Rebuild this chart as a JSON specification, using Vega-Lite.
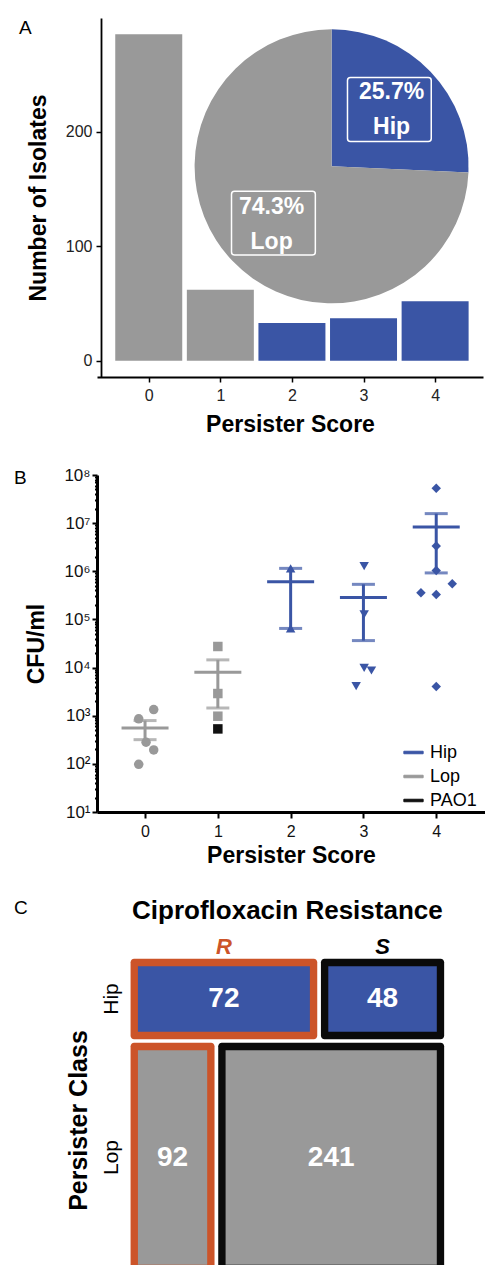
{
  "$schema": "https://vega.github.io/schema/vega-lite/v6.json",
  "background": "white",
  "padding": {"left": 14, "top": 18, "right": 0, "bottom": 0},
  "spacing": 30,
  "config": {
    "font": "Liberation Sans",
    "view": {"stroke": null},
    "axis": {"grid": false, "labelFont": "Liberation Sans", "titleFont": "Liberation Sans"}
  },
  "resolve": {"scale": {"color": "independent", "shape": "independent"}, "legend": {"color": "independent", "shape": "independent"}},
  "datasets": {
    "bars": [
      {"score": 0, "n": 285, "class": "Lop"},
      {"score": 1, "n": 62, "class": "Lop"},
      {"score": 2, "n": 33, "class": "Hip"},
      {"score": 3, "n": 37, "class": "Hip"},
      {"score": 4, "n": 52, "class": "Hip"}
    ],
    "pie": [
      {"class": "Hip", "frac": 0.257},
      {"class": "Lop", "frac": 0.743}
    ],
    "cfu": [
      {"score": 0, "xj": -0.087, "cfu": 860, "class": "Lop", "strain": "Lop"},
      {"score": 0, "xj": 0.119, "cfu": 1343, "class": "Lop", "strain": "Lop"},
      {"score": 0, "xj": 0.014, "cfu": 281, "class": "Lop", "strain": "Lop"},
      {"score": 0, "xj": 0.119, "cfu": 195, "class": "Lop", "strain": "Lop"},
      {"score": 0, "xj": -0.087, "cfu": 98, "class": "Lop", "strain": "Lop"},
      {"score": 1, "xj": 1, "cfu": 27400, "class": "Lop", "strain": "Lop"},
      {"score": 1, "xj": 1, "cfu": 2890, "class": "Lop", "strain": "Lop"},
      {"score": 1, "xj": 1, "cfu": 977, "class": "Lop", "strain": "Lop"},
      {"score": 1, "xj": 1, "cfu": 532, "class": "Lop", "strain": "PAO1"},
      {"score": 2, "xj": 2, "cfu": 1150000, "class": "Hip", "strain": "Hip"},
      {"score": 2, "xj": 2, "cfu": 65000, "class": "Hip", "strain": "Hip"},
      {"score": 3, "xj": 3.01, "cfu": 1280000, "class": "Hip", "strain": "Hip"},
      {"score": 3, "xj": 3.01, "cfu": 127000, "class": "Hip", "strain": "Hip"},
      {"score": 3, "xj": 3.01, "cfu": 9870, "class": "Hip", "strain": "Hip"},
      {"score": 3, "xj": 3.11, "cfu": 8690, "class": "Hip", "strain": "Hip"},
      {"score": 3, "xj": 2.9, "cfu": 4100, "class": "Hip", "strain": "Hip"},
      {"score": 4, "xj": 4, "cfu": 52800000, "class": "Hip", "strain": "Hip"},
      {"score": 4, "xj": 4, "cfu": 3340000, "class": "Hip", "strain": "Hip"},
      {"score": 4, "xj": 4, "cfu": 1040000, "class": "Hip", "strain": "Hip"},
      {"score": 4, "xj": 4.22, "cfu": 551000, "class": "Hip", "strain": "Hip"},
      {"score": 4, "xj": 3.79, "cfu": 358000, "class": "Hip", "strain": "Hip"},
      {"score": 4, "xj": 4, "cfu": 330000, "class": "Hip", "strain": "Hip"},
      {"score": 4, "xj": 4, "cfu": 4040, "class": "Hip", "strain": "Hip"}
    ],
    "mosaic": [
      {"class": "Hip", "res": "R", "n": 72},
      {"class": "Hip", "res": "S", "n": 48},
      {"class": "Lop", "res": "R", "n": 92},
      {"class": "Lop", "res": "S", "n": 241}
    ]
  },
  "vconcat": [
    {
      "width": 386,
      "height": 359,
      "layer": [
        {
          "data": {"name": "bars"},
          "mark": {"type": "bar", "width": 67},
          "encoding": {
            "x": {"field": "score", "type": "quantitative", "title": "Persister Score", "scale": {"domain": [-0.653, 4.599], "nice": false, "zero": false},
              "axis": {"values": [0, 1, 2, 3, 4], "format": "d", "titleFontSize": 23, "titleFontWeight": "bold", "titleColor": "black", "titlePadding": 10, "labelFontSize": 16, "labelColor": "#222", "labelPadding": 5, "labelFlush": false, "tickSize": 5, "tickWidth": 1.5, "tickColor": "black", "domainColor": "black", "domainWidth": 1.8}},
            "y": {"field": "n", "type": "quantitative", "title": "Number of Isolates", "scale": {"domain": [-14.25, 299.25], "nice": false, "zero": false},
              "axis": {"values": [0, 100, 200], "offset": -4, "titleFontSize": 23, "titleFontWeight": "bold", "titleColor": "black", "titlePadding": 15, "labelFontSize": 16, "labelColor": "#222", "labelPadding": 4, "labelFlush": false, "tickSize": 5, "tickWidth": 1.5, "tickColor": "black", "domainColor": "black", "domainWidth": 1.8}},
            "y2": {"datum": 0},
            "color": {"field": "class", "type": "nominal", "scale": {"domain": ["Hip", "Lop"], "range": ["#3A55A5", "#999999"]}, "legend": null}
          }
        },
        {
          "data": {"name": "pie"},
          "mark": {"type": "arc", "outerRadius": 137},
          "encoding": {
            "x": {"datum": 2.554, "type": "quantitative"},
            "y": {"datum": 169.7, "type": "quantitative"},
            "theta": {"field": "frac", "type": "quantitative", "stack": true},
            "order": {"field": "class", "sort": "ascending"},
            "color": {"field": "class", "type": "nominal", "legend": null}
          }
        },
        {
          "data": {"name": "pie"},
          "transform": [{"filter": "datum.class === 'Hip'"}],
          "mark": {"type": "rect", "filled": false, "color": "white", "strokeWidth": 1.5, "cornerRadius": 3},
          "encoding": {
            "x": {"datum": 2.776, "type": "quantitative"},
            "x2": {"datum": 3.946},
            "y": {"datum": 247.4, "type": "quantitative"},
            "y2": {"datum": 191.5}
          }
        },
        {
          "data": {"name": "pie"},
          "transform": [{"filter": "datum.class === 'Lop'"}],
          "mark": {"type": "rect", "filled": false, "color": "white", "strokeWidth": 1.5, "cornerRadius": 3},
          "encoding": {
            "x": {"datum": 1.156, "type": "quantitative"},
            "x2": {"datum": 2.327},
            "y": {"datum": 147.9, "type": "quantitative"},
            "y2": {"datum": 92.3}
          }
        },
        {
          "data": {"name": "pie"},
          "mark": {"type": "text", "radius": 83, "dy": -17, "fontSize": 23, "fontWeight": "bold", "color": "white", "baseline": "middle", "align": "center"},
          "encoding": {
            "x": {"datum": 2.554, "type": "quantitative"},
            "y": {"datum": 169.7, "type": "quantitative"},
            "theta": {"field": "frac", "type": "quantitative", "stack": true},
            "order": {"field": "class", "sort": "ascending"},
            "detail": {"field": "class"},
            "text": {"field": "frac", "type": "quantitative", "format": ".1%"}
          }
        },
        {
          "data": {"name": "pie"},
          "mark": {"type": "text", "radius": 83, "dy": 18, "fontSize": 23, "fontWeight": "bold", "color": "white", "baseline": "middle", "align": "center"},
          "encoding": {
            "x": {"datum": 2.554, "type": "quantitative"},
            "y": {"datum": 169.7, "type": "quantitative"},
            "theta": {"field": "frac", "type": "quantitative", "stack": true},
            "order": {"field": "class", "sort": "ascending"},
            "detail": {"field": "class"},
            "text": {"field": "class", "type": "nominal"}
          }
        },
        {
          "data": {"name": "pie"},
          "transform": [{"filter": "datum.class === 'Hip'"}],
          "mark": {"type": "text", "text": "A", "align": "left", "baseline": "alphabetic", "fontSize": 19, "dx": -83, "dy": 16, "color": "black"},
          "encoding": {
            "x": {"datum": -0.653, "type": "quantitative"},
            "y": {"datum": 299.25, "type": "quantitative"}
          }
        }
      ]
    },
    {
      "width": 388,
      "height": 337,
      "data": {"name": "cfu"},
      "layer": [
        {
          "mark": {"type": "errorbar", "extent": "stderr", "orient": "vertical", "ticks": true, "size": 23, "thickness": 3},
          "encoding": {
            "x": {"field": "score", "type": "quantitative", "title": "Persister Score", "scale": {"domain": [-0.66, 4.67], "nice": false, "zero": false},
              "axis": {"values": [0, 1, 2, 3, 4], "format": "d", "titleFontSize": 23, "titleFontWeight": "bold", "titleColor": "black", "titlePadding": 5, "labelFontSize": 16, "labelColor": "#111", "labelPadding": 5, "labelFlush": false, "tickSize": 6, "tickWidth": 2, "tickColor": "black", "domainColor": "black", "domainWidth": 3}},
            "y": {"field": "cfu", "type": "quantitative", "title": "CFU/ml", "scale": {"type": "log", "domain": [10, 100000000], "nice": false},
              "axis": {
                "values": [10,20,30,40,50,60,70,80,90,100,200,300,400,500,600,700,800,900,1000,2000,3000,4000,5000,6000,7000,8000,9000,10000,20000,30000,40000,50000,60000,70000,80000,90000,100000,200000,300000,400000,500000,600000,700000,800000,900000,1000000,2000000,3000000,4000000,5000000,6000000,7000000,8000000,9000000,10000000,20000000,30000000,40000000,50000000,60000000,70000000,80000000,90000000,100000000],
                "labelExpr": "abs(log(datum.value)/LN10 - round(log(datum.value)/LN10)) < 0.001 ? '10' + ['⁰','¹','²','³','⁴','⁵','⁶','⁷','⁸'][round(log(datum.value)/LN10)] : ''",
                "labelOverlap": false,
                "labelFlush": false,
                "tickSize": {"condition": {"test": "abs(log(datum.value)/LN10 - round(log(datum.value)/LN10)) < 0.001", "value": 5}, "value": 2.5},
                "tickWidth": 2, "tickColor": "black", "domainColor": "black", "domainWidth": 3,
                "labelFontSize": 17, "labelColor": "#111", "labelPadding": 2,
                "titleFontSize": 23, "titleFontWeight": "bold", "titleColor": "black", "titlePadding": 15}},
            "color": {"field": "class", "type": "nominal", "scale": {"domain": ["Hip", "Lop", "PAO1"], "range": ["#3A55A5", "#999999", "#111111"]},
              "legend": {"title": null, "orient": "none", "legendX": 306, "legendY": 267, "symbolType": "M-1,-0.13H1V0.13H-1Z", "symbolSize": 372, "symbolStrokeWidth": 1, "symbolOpacity": 1, "labelFontSize": 18, "labelColor": "black", "labelOffset": 6, "rowPadding": 4, "padding": 0}}
          }
        },
        {
          "mark": {"type": "tick", "orient": "horizontal", "size": 47, "thickness": 3},
          "encoding": {
            "x": {"field": "score", "type": "quantitative", "title": "Persister Score"},
            "y": {"aggregate": "mean", "field": "cfu", "type": "quantitative", "title": "CFU/ml"},
            "color": {"field": "class", "type": "nominal",
              "legend": {"title": null, "orient": "none", "legendX": 306, "legendY": 267, "symbolType": "M-1,-0.13H1V0.13H-1Z", "symbolSize": 372, "symbolStrokeWidth": 1, "symbolOpacity": 1, "labelFontSize": 18, "labelColor": "black", "labelOffset": 6, "rowPadding": 4, "padding": 0}}
          }
        },
        {
          "mark": {"type": "point", "filled": true, "opacity": 1, "size": 90},
          "encoding": {
            "x": {"field": "xj", "type": "quantitative", "title": "Persister Score"},
            "y": {"field": "cfu", "type": "quantitative", "title": "CFU/ml"},
            "shape": {"field": "score", "type": "nominal", "scale": {"domain": [0, 1, 2, 3, 4], "range": ["circle", "square", "triangle-up", "triangle-down", "diamond"]}, "legend": null},
            "color": {"field": "strain", "type": "nominal",
              "legend": {"title": null, "orient": "none", "legendX": 306, "legendY": 267, "symbolType": "M-1,-0.13H1V0.13H-1Z", "symbolSize": 372, "symbolStrokeWidth": 1, "symbolOpacity": 1, "labelFontSize": 18, "labelColor": "black", "labelOffset": 6, "rowPadding": 4, "padding": 0}}
          }
        },
        {
          "transform": [{"aggregate": [{"op": "count", "as": "k"}]}],
          "mark": {"type": "text", "text": "B", "align": "left", "baseline": "alphabetic", "fontSize": 19, "dx": -83, "dy": 8.7, "color": "black"},
          "encoding": {
            "x": {"datum": -0.66, "type": "quantitative", "title": "Persister Score"},
            "y": {"datum": 100000000, "type": "quantitative", "title": "CFU/ml"}
          }
        }
      ]
    },
    {
      "width": 349,
      "height": 311,
      "data": {"name": "mosaic"},
      "transform": [
        {"stack": "n", "groupby": ["class"], "sort": [{"field": "res", "order": "ascending"}], "offset": "normalize", "as": ["x0", "x1"]},
        {"stack": "n", "groupby": [], "sort": [{"field": "class", "order": "ascending"}, {"field": "res", "order": "ascending"}], "offset": "normalize", "as": ["s0", "s1"]},
        {"joinaggregate": [{"op": "min", "field": "s0", "as": "y0"}, {"op": "max", "field": "s1", "as": "y1"}], "groupby": ["class"]}
      ],
      "layer": [
        {
          "mark": {"type": "rect", "cornerRadius": 3.5, "xOffset": 1.85, "x2Offset": -1.85, "yOffset": 1.85, "y2Offset": -1.85, "clip": true},
          "encoding": {
            "x": {"field": "x0", "type": "quantitative", "scale": {"domain": [-0.1, 1], "nice": false, "zero": false}, "axis": null},
            "x2": {"field": "x1"},
            "y": {"field": "y0", "type": "quantitative", "scale": {"domain": [0, 0.981], "reverse": true, "nice": false, "zero": false}, "axis": null},
            "y2": {"field": "y1"},
            "color": {"condition": {"test": "datum.res === 'R'", "value": "#CC5429"}, "value": "#0A0A0A"}
          }
        },
        {
          "mark": {"type": "rect", "xOffset": 9.2, "x2Offset": -9.2, "yOffset": 9.2, "y2Offset": -9.2, "clip": true},
          "encoding": {
            "x": {"field": "x0", "type": "quantitative", "axis": null},
            "x2": {"field": "x1"},
            "y": {"field": "y0", "type": "quantitative", "axis": null},
            "y2": {"field": "y1"},
            "color": {"condition": {"test": "datum.class === 'Hip'", "value": "#3A55A5"}, "value": "#999999"}
          }
        },
        {
          "transform": [
            {"fold": ["x0", "x1"], "as": ["kx", "xv"]},
            {"fold": ["y0", "y1"], "as": ["ky", "yv"]}
          ],
          "mark": {"type": "text", "fontSize": 28, "fontWeight": "bold", "color": "white", "baseline": "middle", "align": "center"},
          "encoding": {
            "x": {"aggregate": "mean", "field": "xv", "type": "quantitative", "axis": null},
            "y": {"aggregate": "mean", "field": "yv", "type": "quantitative", "axis": null},
            "detail": [{"field": "class"}, {"field": "res"}],
            "text": {"field": "n", "type": "quantitative"}
          }
        },
        {
          "transform": [
            {"filter": "datum.class === 'Hip'"},
            {"fold": ["x0", "x1"], "as": ["kx", "xv"]}
          ],
          "mark": {"type": "text", "fontSize": 22, "fontWeight": "bold", "fontStyle": "italic", "baseline": "alphabetic", "align": "center", "dy": -3.5},
          "encoding": {
            "x": {"aggregate": "mean", "field": "xv", "type": "quantitative", "axis": null},
            "y": {"datum": 0, "type": "quantitative", "axis": null},
            "text": {"field": "res", "type": "nominal"},
            "color": {"condition": {"test": "datum.res === 'R'", "value": "#CC5429"}, "value": "#000000"}
          }
        },
        {
          "transform": [
            {"filter": "datum.res === 'R'"},
            {"fold": ["y0", "y1"], "as": ["ky", "yv"]}
          ],
          "mark": {"type": "text", "fontSize": 21, "angle": 270, "baseline": "alphabetic", "align": "center", "dy": -11, "color": "black"},
          "encoding": {
            "x": {"datum": 0, "type": "quantitative", "axis": null},
            "y": {"aggregate": "mean", "field": "yv", "type": "quantitative", "axis": null},
            "text": {"field": "class", "type": "nominal"}
          }
        },
        {
          "transform": [{"aggregate": [{"op": "sum", "field": "n", "as": "total"}]}],
          "mark": {"type": "text", "fontSize": 26, "fontWeight": "bold", "baseline": "alphabetic", "align": "center", "dy": -38.2, "color": "black"},
          "encoding": {
            "x": {"datum": 0.5, "type": "quantitative", "axis": null},
            "y": {"datum": 0, "type": "quantitative", "axis": null},
            "text": {"value": "Ciprofloxacin Resistance"}
          }
        },
        {
          "transform": [{"aggregate": [{"op": "sum", "field": "n", "as": "total"}]}],
          "mark": {"type": "text", "fontSize": 25, "fontWeight": "bold", "angle": 270, "baseline": "alphabetic", "align": "center", "dy": -42, "dx": -5, "color": "black"},
          "encoding": {
            "x": {"datum": 0, "type": "quantitative", "axis": null},
            "y": {"datum": 0.5, "type": "quantitative", "axis": null},
            "text": {"value": "Persister Class"}
          }
        },
        {
          "transform": [{"aggregate": [{"op": "sum", "field": "n", "as": "total"}]}],
          "mark": {"type": "text", "text": "C", "align": "left", "baseline": "alphabetic", "fontSize": 19, "dx": -83, "dy": -43.5, "color": "black"},
          "encoding": {
            "x": {"datum": -0.1, "type": "quantitative", "axis": null},
            "y": {"datum": 0, "type": "quantitative", "axis": null}
          }
        }
      ]
    }
  ]
}
